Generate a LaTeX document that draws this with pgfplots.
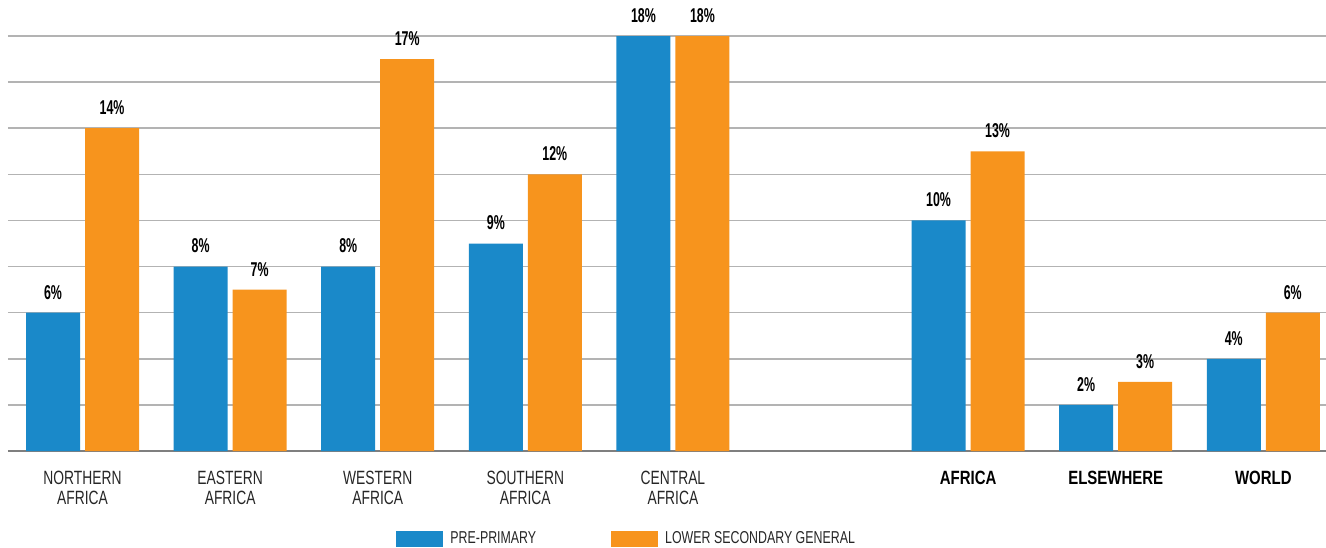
\documentclass[border=0pt]{standalone}
\usepackage{pgfplots}
\pgfplotsset{compat=1.18}
\usepackage{fontspec}
\setmainfont{Liberation Sans}[FakeStretch=0.72]
\newfontfamily\valfont{Liberation Sans}[FakeStretch=0.62]
\newfontfamily\tickbold{Liberation Sans}[FakeStretch=0.78]

\definecolor{preblue}{HTML}{1A89C9}
\definecolor{secorange}{HTML}{F7941D}
\definecolor{gridgray}{HTML}{B3B3B3}
\definecolor{basegray}{HTML}{7F7F7F}

\begin{document}
\begin{tikzpicture}
  \begin{axis}[
    at={(4pt,48pt)}, anchor=south west,
    scale only axis,
    width=659pt, height=207.5pt,
    xmin=-0.505, xmax=8.425,
    ymin=0, ymax=18,
    ybar=2.5pt, bar width=27pt,
    clip=false,
    axis line style={draw=none},
    major tick length=0pt,
    ytick={2,4,...,18}, yticklabels={},
    ymajorgrids, grid style={gridgray, line width=0.8pt},
    extra y ticks={0}, extra y tick labels={},
    extra y tick style={grid style={basegray, line width=1pt}},
    xtick={0,1,2,3,4,6,7,8},
    xticklabels={NORTHERN\\AFRICA, EASTERN\\AFRICA, WESTERN\\AFRICA,
      SOUTHERN\\AFRICA, CENTRAL\\AFRICA,
      {\color{black}\tickbold\bfseries AFRICA},
      {\color{black}\tickbold\bfseries ELSEWHERE},
      {\color{black}\tickbold\bfseries WORLD}},
    xticklabel style={font=\fontsize{9.6}{10}\selectfont, align=center,
      anchor=north, inner sep=0pt, yshift=-10pt, text=black!85},
    nodes near coords={\pgfmathprintnumber[assume math mode=true]{\pgfplotspointmeta}\%},
    nodes near coords style={font=\valfont\bfseries\fontsize{10}{11}\selectfont,
      anchor=south, inner sep=0pt, yshift=6.5pt, text=black},
    legend columns=2,
    legend style={at={(0.2944,0)}, anchor=north west, yshift=-40pt,
      draw=none, fill=none, inner sep=0pt,
      font=\fontsize{8.6}{10}\selectfont, text=black!85,
      nodes={inner sep=0pt},
      /tikz/every odd column/.append style={column sep=3.5pt},
      /tikz/every even column/.append style={column sep=37.5pt}},
  ]
    \addplot[fill=preblue, draw=none,
      legend image code/.code={\fill[preblue] (0pt,-4pt) rectangle (23.5pt,4pt);}]
      coordinates {(0,6) (1,8) (2,8) (3,9) (4,18) (6,10) (7,2) (8,4)};
    \addplot[fill=secorange, draw=none,
      legend image code/.code={\fill[secorange] (0pt,-4pt) rectangle (23.5pt,4pt);}]
      coordinates {(0,14) (1,7) (2,17) (3,12) (4,18) (6,13) (7,3) (8,6)};
    \legend{PRE-PRIMARY, LOWER SECONDARY GENERAL}
  \end{axis}
  \pgfresetboundingbox
  \path (0,0) rectangle (663pt,273.5pt);
\end{tikzpicture}
\end{document}
